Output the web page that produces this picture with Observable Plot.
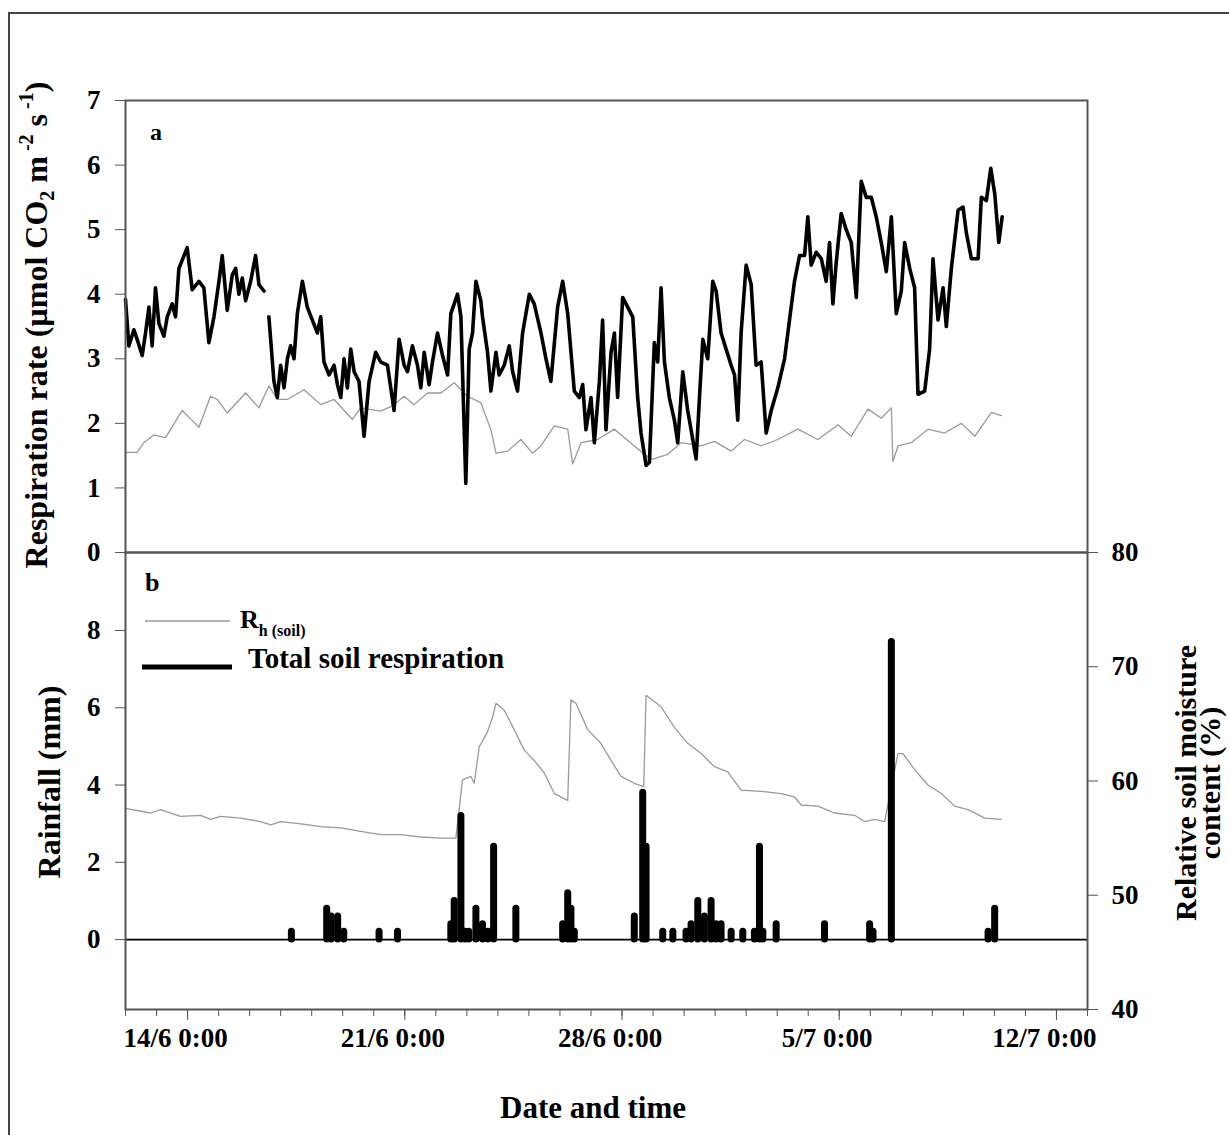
<!DOCTYPE html>
<html><head><meta charset="utf-8">
<script src="https://cdn.jsdelivr.net/npm/d3@7"></script>
<script src="https://cdn.jsdelivr.net/npm/@observablehq/plot@0.6"></script>
<style>
html,body{margin:0;padding:0;background:#fff;overflow:hidden;}
#wrap{position:relative;width:1229px;height:1135px;overflow:hidden;background:#fff;}
#wrap svg{position:absolute;left:0;top:0;}
#border{position:absolute;left:8px;top:12px;width:1400px;height:1400px;border:2px solid #444;box-sizing:border-box;}
</style></head><body><div id="wrap"><div id="border"></div></div>
<script>
// ---- Data (hours since 12/6 0:00) ----
const totalHours = [0,2.6,6.5,9.0,12.9,15.5,18.1,20.6,23.2,25.8,29.7,32.3,36.1,38.7,41.3,47.7,51.6,56.8,60.6,64.5,68.4,72.3,74.8,78.7,82.6,85.2,87.7,90.3,92.9,96.8,100.6,103.2,107.1,109,
110.9,114.8,117.4,120.0,122.6,125.2,127.7,130.3,132.9,136.8,140.6,144.5,148.4,151.0,153.5,157.4,161.3,163.9,166.5,169.0,171.6,174.2,176.8,180.6,184.5,188.4,193.5,197.4,202.6,207.7,211.6,215.5,218.1,221.9,225.8,228.4,231.0,234.8,237.4,241.3,245.2,249.1,251.6,254.2,256.8,259.4,263.2,265.8,268.4,271.0,274.8,
276.1,280.0,282.6,286.5,289.0,292.9,296.8,299.4,303.2,307.1,312.3,316.1,321.3,325.2,329.0,334.2,338.1,342.0,347.1,351.0,353.6,356.1,360.0,362.6,366.5,369.0,371.6,375.5,378.1,380.6,384.5,388.4,392.3,396.1,398.7,402.6,405.2,409.0,411.6,414.2,416.8,420.6,424.5,427.1,431.0,434.8,437.4,441.3,443.9,446.5,450.3,454.2,456.8,460.6,464.5,468.4,471.0,473.5,476.1,480.0,483.9,487.7,491.6,495.5,499.4,504.5,509.7,514.8,517.4,521.3,
525.2,527.7,530.3,534.2,538.1,541.9,544.5,547.1,549.7,553.5,557.4,561.3,565.2,569.0,572.9,576.8,580.6,584.5,588.4,592.3,596.1,600.0,602.6,606.5,610.3,612.9,618.1,621.9,624.5,628.4,632.3,634.8,638.7,643.9,647.7,650.3,654.2,659.4,661.9,665.8,669.2,672.3,675.4,678.0];
const totalResp = [3.92,3.2,3.45,3.3,3.05,3.4,3.8,3.2,4.1,3.55,3.35,3.65,3.85,3.65,4.4,4.72,4.07,4.2,4.1,3.25,3.65,4.2,4.6,3.75,4.3,4.4,4.0,4.25,3.9,4.2,4.6,4.15,4.05,null,
3.65,2.65,2.4,2.9,2.55,3.0,3.2,3.0,3.7,4.2,3.8,3.6,3.4,3.65,2.95,2.75,2.9,2.6,2.4,3.0,2.55,3.15,2.8,2.65,1.8,2.65,3.1,2.95,2.9,2.2,3.3,2.9,2.8,3.2,2.9,2.55,3.1,2.6,2.95,3.4,3.05,2.75,3.7,3.85,4.0,3.65,1.07,3.15,3.4,4.2,3.9,
3.65,3.1,2.5,3.1,2.75,2.9,3.2,2.8,2.5,3.4,4.0,3.85,3.4,3.0,2.65,3.8,4.2,3.7,2.5,2.4,2.6,1.9,2.4,1.7,2.65,3.6,1.9,3.1,3.4,2.4,3.95,3.8,3.65,2.4,1.85,1.35,1.4,3.25,2.95,4.1,2.95,2.4,2.05,1.7,2.8,2.2,1.9,1.45,2.4,3.3,3.0,4.2,4.05,3.4,3.15,2.9,2.75,2.05,3.4,4.45,4.15,2.9,2.95,1.85,2.2,2.55,3.0,3.8,4.2,4.6,
4.6,5.2,4.45,4.65,4.55,4.2,4.8,3.85,4.5,5.25,5.0,4.8,3.95,5.75,5.5,5.5,5.2,4.8,4.35,5.2,3.7,4.05,4.8,4.4,4.1,2.45,2.5,3.15,4.55,3.6,4.1,3.5,4.4,5.3,5.35,4.95,4.55,4.55,5.5,5.45,5.95,5.55,4.8,5.2];

const rhHours = [0,9.0,14.2,21.9,31.0,43.9,50.3,56.8,65.8,71.0,78.7,92.9,103.2,110.9,117.4,125.2,138.1,151.0,161.3,175.5,181.9,197.4,206.4,215.5,223.2,233.5,243.9,254.2,264.5,274.8,282.6,286.5,295.5,305.8,314.8,321.3,331.6,342.0,345.8,352.3,365.2,378.1,393.5,406.5,419.4,429.7,445.2,455.5,468.4,478.7,491.6,504.5,520.0,535.5,551.0,561.3,574.2,584.5,592.3,593.5,597.4,607.7,620.6,633.5,646.5,656.8,669.7,677.4];
const rhSoil = [1.55,1.55,1.7,1.82,1.78,2.2,2.07,1.94,2.42,2.37,2.16,2.47,2.24,2.58,2.37,2.37,2.52,2.29,2.37,2.06,2.24,2.19,2.27,2.42,2.29,2.47,2.47,2.63,2.42,2.32,1.9,1.54,1.57,1.75,1.54,1.65,1.96,1.91,1.37,1.7,1.75,1.91,1.65,1.44,1.52,1.7,1.65,1.72,1.57,1.75,1.65,1.75,1.91,1.75,1.98,1.8,2.22,2.08,2.24,1.41,1.65,1.7,1.91,1.85,2.0,1.8,2.17,2.12];

const moistHours = [0,19.4,27.1,42.6,58.1,65.8,73.5,89.0,104.5,112.3,120.0,135.5,151.0,166.5,181.9,197.4,212.9,228.4,243.9,255.5,260.6,267.1,269.7,273.6,280.0,283.9,286.5,292.9,300.6,308.4,316.1,323.9,331.6,342.0,344.5,348.4,357.4,367.7,375.5,383.2,393.5,400.8,402.6,414.2,424.5,434.8,445.2,455.5,465.8,476.1,491.6,507.1,517.4,522.6,535.5,548.4,563.9,571.6,579.3,587.1,597.4,601.3,610.3,620.6,630.9,641.3,651.6,664.5,677.4];
const moisture = [57.6,57.2,57.5,56.9,57.0,56.65,56.9,56.75,56.45,56.15,56.45,56.25,56.0,55.9,55.6,55.3,55.3,55.1,55.0,55.0,60.1,60.4,59.8,63.0,64.3,65.6,66.8,66.2,64.5,62.7,61.8,60.7,58.9,58.3,67.1,66.8,64.5,63.3,61.8,60.4,59.8,59.5,67.5,66.5,64.7,63.3,62.4,61.25,60.8,59.2,59.1,58.9,58.6,57.9,57.8,57.2,57.0,56.45,56.65,56.45,62.4,62.4,61.0,59.65,58.9,57.8,57.5,56.75,56.65];

const rainHours = [128.3,155.6,159.0,164.1,168.8,196.1,210.4,251.6,254.2,259.4,262.5,265.5,271.0,276.1,280.3,284.7,301.9,338.1,342.0,344.5,347.1,393.5,400.0,402.6,415.5,423.3,433.5,437.4,442.6,447.7,452.9,456.8,460.6,468.4,477.4,486.4,490.3,492.9,503.2,540.6,575.5,578.1,592.3,667.1,672.2];
const rainfall = [0.2,0.8,0.6,0.6,0.2,0.2,0.2,0.4,1.0,3.2,0.2,0.2,0.8,0.4,0.2,2.4,0.8,0.4,1.2,0.8,0.2,0.6,3.8,2.4,0.2,0.2,0.2,0.4,1.0,0.6,1.0,0.4,0.4,0.2,0.2,0.2,2.4,0.2,0.4,0.4,0.4,0.2,7.7,0.2,0.8];

const respTicks = [0,1,2,3,4,5,6,7];
const rainTicks = [0,2,4,6,8];
const moistTicks = [40,50,60,70,80];
const xTickLabels = ["14/6 0:00","21/6 0:00","28/6 0:00","5/7 0:00","12/7 0:00"];
const xTickDays = [[5,14],[5,21],[5,28],[6,5],[6,12]]; // [month index, day]

// ---- Build ----
const YEAR = 2005;
const T0 = Date.UTC(YEAR, 5, 12);
const toDate = h => new Date(T0 + h * 3600e3);
const xDomain = [new Date(Date.UTC(YEAR,5,12)), new Date(Date.UTC(YEAR,6,13))];
const mk = (hs, vs) => hs.map((h,i) => ({date: toDate(h), value: vs[i]}));
const totalData = mk(totalHours, totalResp);
const rhData = mk(rhHours, rhSoil);
const moistData = mk(moistHours, moisture);
const rainData = mk(rainHours, rainfall);
const majorTicks = xTickDays.map(([m,d]) => new Date(Date.UTC(YEAR,m,d)));
const labelMap = new Map(majorTicks.map((d,i) => [+d, xTickLabels[i]]));
const dailyTicks = d3.utcDay.range(xDomain[0], new Date(+xDomain[1] + 1));
const intFmt = d => String(d);

const W = 1229, H = 1135, L = 125, R = 1229 - 1087;
const FONT = "'Liberation Serif', 'Times New Roman', serif";
const style = {background:"transparent", fontFamily:FONT, fontSize:"27px", fontWeight:"bold", color:"#000", overflow:"visible"};
const GRAY = "#9a9a9a";

const wrap = document.getElementById("wrap");

// Panel b: soil moisture (right axis) - drawn first so rain bars sit on top
const moistPlot = Plot.plot({
  width: W, height: H, marginLeft: L, marginRight: R, marginTop: 552, marginBottom: H - 1009,
  style,
  x: {type: "utc", domain: xDomain, axis: null},
  y: {domain: [40, 80]},
  marks: [
    Plot.line(moistData, {x: "date", y: "value", stroke: GRAY, strokeWidth: 1.3}),
    Plot.axisY({anchor: "right", ticks: moistTicks, tickFormat: intFmt, tickSize: 10, tickPadding: 14, label: null, stroke: "#555"})
  ]
});
wrap.appendChild(moistPlot);

// Panel b: rainfall
const rainPlot = Plot.plot({
  width: W, height: H, marginLeft: L, marginRight: R, marginTop: 552, marginBottom: H - 1009,
  style,
  x: {type: "utc", domain: xDomain},
  y: {domain: [-1.81, 10.02]},
  marks: [
    Plot.ruleY([0], {stroke: "#000", strokeWidth: 1.6}),
    Plot.ruleX(rainData, {x: "date", y1: 0, y2: "value", stroke: "#000", strokeWidth: 7, strokeLinecap: "round"}),
    Plot.frame({stroke: "#555", strokeWidth: 2}),
    Plot.axisY({ticks: rainTicks, tickFormat: intFmt, tickSize: 10, tickPadding: 15, label: null, stroke: "#555"}),
    Plot.axisX({ticks: dailyTicks, tickSize: 7, tickFormat: () => "", label: null, stroke: "#555"}),
    Plot.axisX({ticks: majorTicks, tickSize: 11, tickFormat: () => "", label: null, stroke: "#555"}),
    Plot.axisX({ticks: majorTicks, tickSize: 0, tickPadding: 18, tickFormat: d => labelMap.get(+d), label: null, dx: -12})
  ]
});
wrap.appendChild(rainPlot);

// Panel a: respiration
const respPlot = Plot.plot({
  width: W, height: H, marginLeft: L, marginRight: R, marginTop: 100, marginBottom: H - 552,
  style,
  x: {type: "utc", domain: xDomain, axis: null},
  y: {domain: [0, 7]},
  marks: [
    Plot.line(rhData, {x: "date", y: "value", stroke: GRAY, strokeWidth: 1.3}),
    Plot.line(totalData, {x: "date", y: "value", stroke: "#000", strokeWidth: 3.6, strokeLinejoin: "round"}),
    Plot.frame({stroke: "#555", strokeWidth: 2}),
    Plot.axisY({ticks: respTicks, tickFormat: intFmt, tickSize: 10, tickPadding: 15, label: null, stroke: "#555"})
  ]
});
wrap.appendChild(respPlot);

// ---- Titles, labels, legend ----
const ann = d3.select(wrap).append("svg").attr("width", W).attr("height", H)
  .style("font-family", FONT).style("font-weight", "bold").attr("fill", "#000");

const yl = ann.append("text").attr("transform", "translate(47,325) rotate(-90)").attr("text-anchor", "middle").attr("font-size", 32);
yl.append("tspan").text("Respiration rate (\u00B5mol CO");
yl.append("tspan").attr("font-size", 20).attr("dy", 7).text("2");
yl.append("tspan").attr("dy", -7).text(" m");
yl.append("tspan").attr("font-size", 20).attr("dy", -14).text(" -2");
yl.append("tspan").attr("dy", 14).text(" s");
yl.append("tspan").attr("font-size", 20).attr("dy", -14).text(" -1");
yl.append("tspan").attr("dy", 14).text(")");

ann.append("text").attr("transform", "translate(60,782) rotate(-90)").attr("text-anchor", "middle").attr("font-size", 32).text("Rainfall (mm)");
ann.append("text").attr("transform", "translate(1196,783) rotate(-90)").attr("text-anchor", "middle").attr("font-size", 30).text("Relative soil moisture");
ann.append("text").attr("transform", "translate(1220,783) rotate(-90)").attr("text-anchor", "middle").attr("font-size", 30).text("content (%)");
ann.append("text").attr("x", 593).attr("y", 1118).attr("text-anchor", "middle").attr("font-size", 31).text("Date and time");
ann.append("text").attr("x", 150).attr("y", 140).attr("font-size", 24).text("a");
ann.append("text").attr("x", 145).attr("y", 591).attr("font-size", 26).text("b");

// legend
ann.append("line").attr("x1", 145).attr("x2", 230).attr("y1", 621).attr("y2", 621).attr("stroke", GRAY).attr("stroke-width", 1.3);
const lr = ann.append("text").attr("x", 240).attr("y", 628).attr("font-size", 26);
lr.append("tspan").text("R");
lr.append("tspan").attr("font-size", 16).attr("dy", 8).text("h (soil)");
ann.append("line").attr("x1", 142).attr("x2", 232).attr("y1", 667).attr("y2", 667).attr("stroke", "#000").attr("stroke-width", 5);
ann.append("text").attr("x", 248).attr("y", 668).attr("font-size", 29).text("Total soil respiration");
</script>
</body></html>
